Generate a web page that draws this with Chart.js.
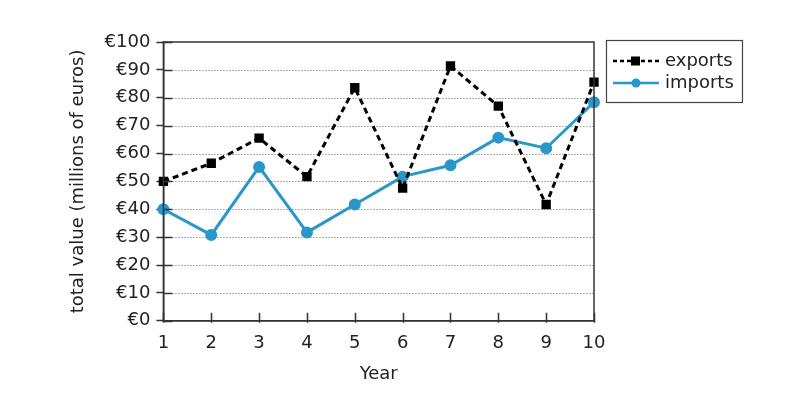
<!DOCTYPE html>
<html>
<head>
<meta charset="utf-8">
<script src="https://cdn.jsdelivr.net/npm/chart.js@4"></script>
<style>
  html, body { margin: 0; padding: 0; background: #fff; }
  #wrap { width: 800px; height: 393px; }
</style>
</head>
<body>
<div id="wrap"><canvas id="trade"></canvas></div>
<script>
const years = ['1', '2', '3', '4', '5', '6', '7', '8', '9', '10'];
const exportsValues = [50, 56.5, 65.5, 51.7, 83.6, 47.6, 91.4, 77, 41.7, 85.6];
const importsValues = [40, 30.8, 55.2, 31.7, 41.7, 51.7, 55.8, 65.7, 61.9, 78.4];
const yTicks = [0, 10, 20, 30, 40, 50, 60, 70, 80, 90, 100];

const FONT = '"DejaVu Sans", Verdana, sans-serif';
const AXIS = '#333';
const BLUE = '#2a97c9';

// dotted grid under the lines
const dottedGrid = {
    id: 'dottedGrid',
    beforeDatasetsDraw(chart) {
        const ctx = chart.ctx;
        const a = chart.chartArea;
        const y = chart.scales.y;
        ctx.save();
        ctx.strokeStyle = '#666';
        ctx.lineWidth = 1;
        ctx.setLineDash([1, 2]);
        ctx.beginPath();
        yTicks.slice(1, -1).forEach(v => {
            const py = Math.round(y.getPixelForValue(v)) + 0.5;
            ctx.moveTo(a.left, py);
            ctx.lineTo(a.right, py);
        });
        ctx.stroke();
        ctx.restore();
    }
};

// frame, inner tick marks and legend box
const extras = {
    id: 'extras',
    afterDraw(chart) {
        const ctx = chart.ctx;
        const a = chart.chartArea;
        const x = chart.scales.x;
        const y = chart.scales.y;
        ctx.save();
        ctx.strokeStyle = AXIS;
        ctx.lineWidth = 1.5;
        ctx.strokeRect(a.left, a.top, a.right - a.left, a.bottom - a.top);

        ctx.beginPath();
        yTicks.forEach(v => {
            const py = Math.round(y.getPixelForValue(v)) + 0.5;
            ctx.moveTo(a.left, py);
            ctx.lineTo(a.left + 9, py);
        });
        years.forEach((_, i) => {
            const px = Math.round(x.getPixelForValue(i)) + 0.5;
            ctx.moveTo(px, a.bottom + 2);
            ctx.lineTo(px, a.bottom - 8);
        });
        ctx.stroke();

        // legend
        const lx = a.right + 12, ly = 40, lw = 136, lh = 62;
        ctx.lineWidth = 1.2;
        ctx.strokeStyle = '#444';
        ctx.strokeRect(lx + 0.5, ly + 0.5, lw, lh);
        ctx.font = '18px ' + FONT;
        ctx.textBaseline = 'middle';
        const rows = [
            { label: 'exports', color: '#000', dash: [4, 3], point: 'rect', y: ly + 21 },
            { label: 'imports', color: BLUE, dash: [], point: 'circle', y: ly + 43 }
        ];
        rows.forEach(r => {
            ctx.strokeStyle = r.color;
            ctx.lineWidth = 2.5;
            ctx.setLineDash(r.dash);
            ctx.beginPath();
            ctx.moveTo(lx + 7, r.y);
            ctx.lineTo(lx + 53, r.y);
            ctx.stroke();
            ctx.setLineDash([]);
            ctx.fillStyle = r.color;
            if (r.point === 'rect') {
                ctx.fillRect(lx + 25, r.y - 4.5, 9, 9);
            } else {
                ctx.beginPath();
                ctx.arc(lx + 30, r.y, 4.5, 0, Math.PI * 2);
                ctx.fill();
            }
            ctx.fillStyle = '#222';
            ctx.fillText(r.label, lx + 59, r.y);
        });
        ctx.restore();
    }
};

new Chart(document.getElementById('trade'), {
    type: 'line',
    data: {
        labels: years,
        datasets: [{
            label: 'exports',
            data: exportsValues,
            borderColor: '#000',
            backgroundColor: '#000',
            borderWidth: 3,
            borderDash: [6, 4],
            pointStyle: 'rect',
            pointRadius: 4.5,
            tension: 0
        }, {
            label: 'imports',
            data: importsValues,
            borderColor: BLUE,
            backgroundColor: BLUE,
            borderWidth: 3,
            pointStyle: 'circle',
            pointRadius: 4.5,
            tension: 0
        }]
    },
    options: {
        responsive: true,
        maintainAspectRatio: false,
        animation: false,
        layout: { padding: { left: 64, top: 42, right: 206, bottom: 8 } },
        plugins: {
            legend: { display: false },
            tooltip: { enabled: false }
        },
        scales: {
            x: {
                offset: false,
                grid: { display: false },
                border: { color: AXIS, width: 1.5 },
                ticks: { color: '#222', font: { family: FONT, size: 18 }, padding: 4, maxRotation: 0 },
                title: { display: true, text: 'Year', color: '#222', font: { family: FONT, size: 18 }, padding: { top: 5, bottom: 0 } }
            },
            y: {
                min: 0,
                max: 100,
                ticks: {
                    stepSize: 10,
                    color: '#222',
                    font: { family: FONT, size: 18 },
                    padding: 6,
                    callback: v => '€' + v
                },
                grid: {
                    drawOnChartArea: false,
                    tickColor: AXIS,
                    tickLength: 7,
                    tickWidth: 1.5
                },
                border: { color: AXIS, width: 1.5 },
                title: {
                    display: true,
                    text: 'total value (millions of euros)',
                    color: '#222',
                    font: { family: FONT, size: 18 },
                    padding: { top: 4, bottom: 9 }
                }
            }
        }
    },
    plugins: [dottedGrid, extras]
});
</script>
</body>
</html>
